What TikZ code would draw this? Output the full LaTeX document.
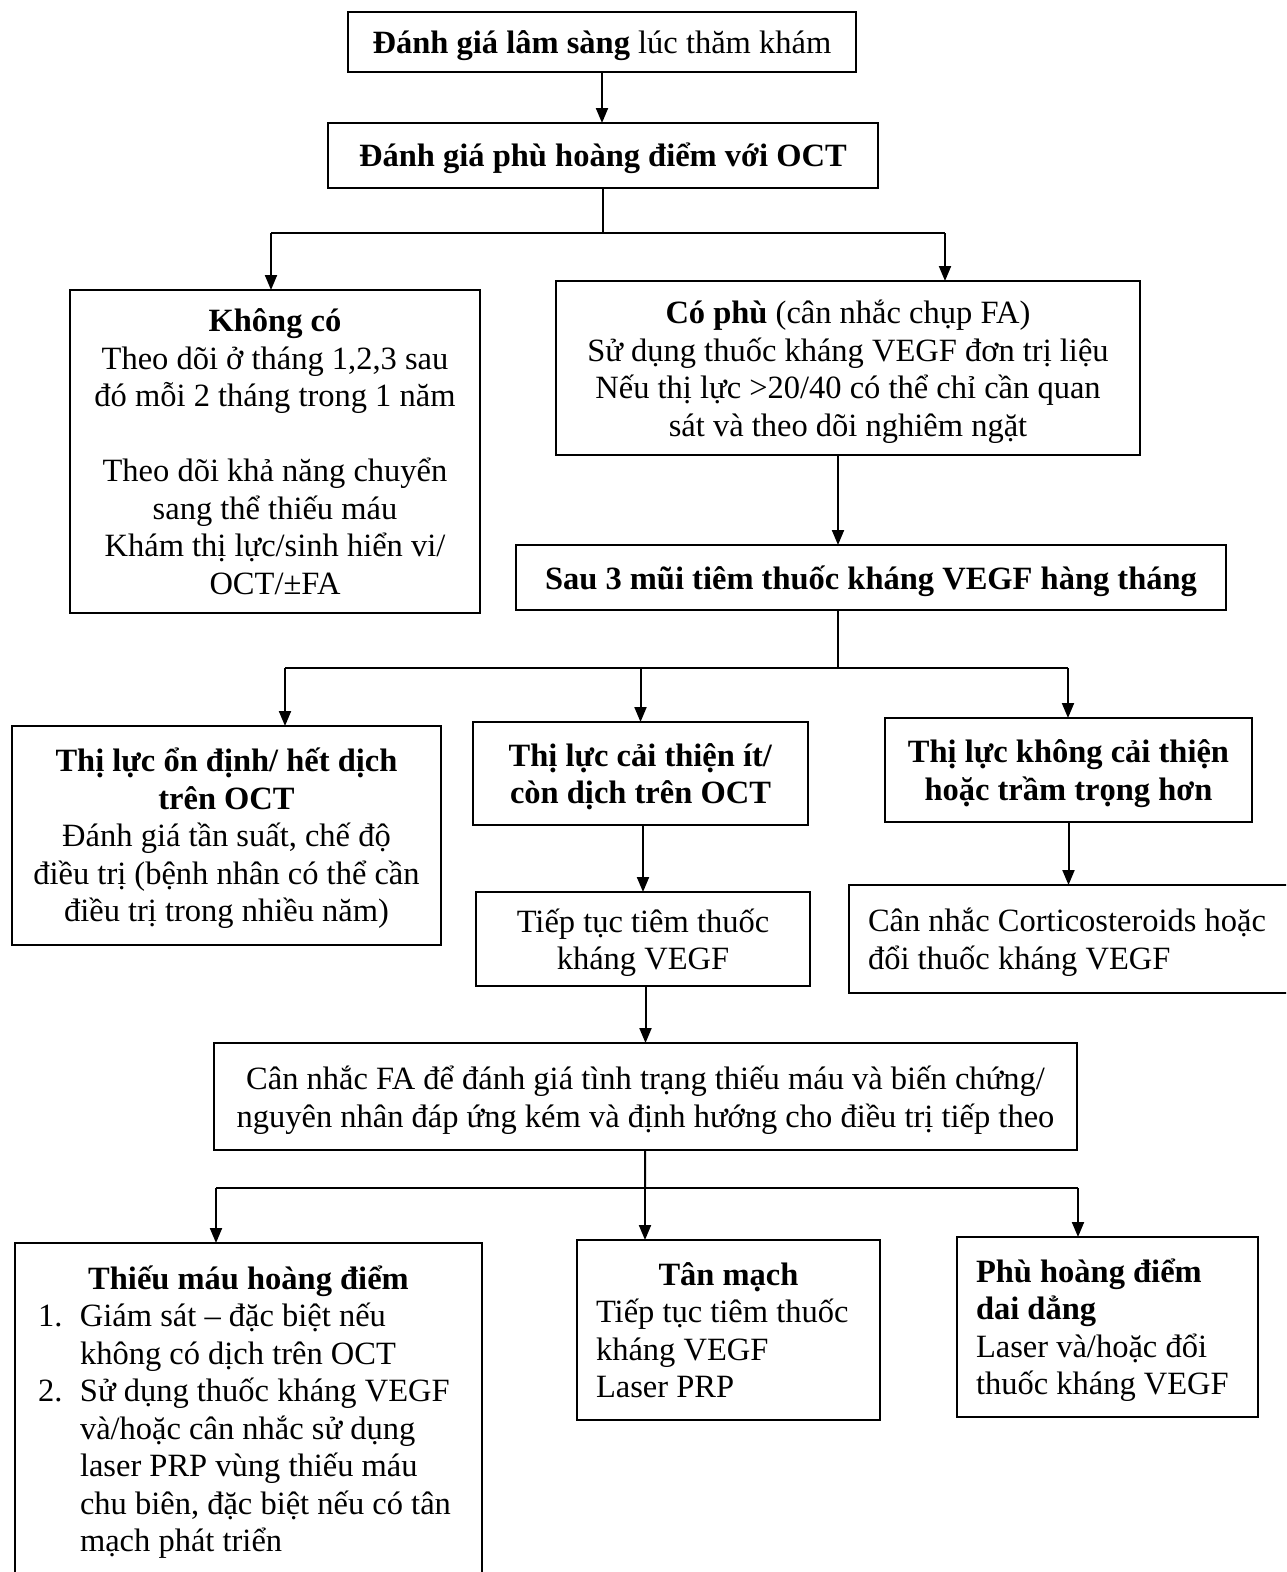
\documentclass[tikz,border=0pt]{standalone}
\usepackage{fontspec}
\setmainfont{Liberation Serif}
\usetikzlibrary{arrows.meta}

\begin{document}
\begin{tikzpicture}[x=1pt, y=-1pt]
\tikzset{ >={Triangle[length=15pt,width=12pt]}, outer sep=0pt,
  box/.style={draw, line width=2.2pt, align=center, inner xsep=19pt, inner ysep=0pt,
              font=\fontsize{32.5pt}{37.5pt}\selectfont},
  lbox/.style={box, align=flush left},
  link/.style={line width=2pt},
}

\useasboundingbox (0,0) rectangle (1286,1572);
\clip (0,0) rectangle (1286,1572);
\fill [white] (0,0) rectangle (1286,1572);

%\draw [lightgray, dashed](0,0) grid [step=100] (1286,1572);

\node [box, minimum width=508pt, minimum height=60pt, text depth=-8pt] (A) at (602,42) {\textbf{Đánh giá lâm sàng} lúc thăm khám};
\node [box, minimum width=550pt, minimum height=65pt, text depth=1pt] (B) at (603,155.5) {\textbf{Đánh giá phù hoàng điểm với OCT}};

\node [box, minimum width=410pt, minimum height=323pt, text depth=-3.5pt] (C) at (275,451.5)
  {\textbf{Không có}\\Theo dõi ở tháng 1,2,3 sau\\đó mỗi 2 tháng trong 1 năm\\[37.5pt]Theo dõi khả năng chuyển\\sang thể thiếu máu\\Khám thị lực/sinh hiển vi/\\OCT/±FA};
\node [box, minimum width=584pt, minimum height=174pt, text depth=-7pt] (D) at (848,368)
  {\textbf{Có phù} (cân nhắc chụp FA)\\Sử dụng thuốc kháng VEGF đơn trị liệu\\Nếu thị lực >20/40 có thể chỉ cần quan\\sát và theo dõi nghiêm ngặt};

\node [box, minimum width=710pt, minimum height=65pt, text depth=-1pt] (E) at (871,577.5) {\textbf{Sau 3 mũi tiêm thuốc kháng VEGF hàng tháng}};

\node [box, minimum width=429pt, minimum height=219pt, text depth=1pt] (F) at (226.5,835.5)
  {\textbf{Thị lực ổn định/ hết dịch}\\\textbf{trên OCT}\\Đánh giá tần suất, chế độ\\điều trị (bệnh nhân có thể cần\\điều trị trong nhiều năm)};
\node [box, minimum width=335pt, minimum height=103pt, text depth=-10pt] (G) at (640.5,773.5) {\textbf{Thị lực cải thiện ít/}\\\textbf{còn dịch trên OCT}};
\node [box, minimum width=367pt, minimum height=104pt, text depth=-10pt] (H) at (1068.5,770) {\textbf{Thị lực không cải thiện}\\\textbf{hoặc trầm trọng hơn}};

\node [box, minimum width=334pt, minimum height=94pt, text depth=-12pt] (I) at (643,939) {Tiếp tục tiêm thuốc\\kháng VEGF};
\node [lbox, text width=422pt, minimum height=108pt, text height=30pt] (J) at (1079,939) {Cân nhắc Corticosteroids hoặc\\đổi thuốc kháng VEGF};

\node [box, minimum width=863pt, minimum height=107pt, text depth=-3pt] (K) at (645.5,1096.5)
  {Cân nhắc FA để đánh giá tình trạng thiếu máu và biến chứng/\\nguyên nhân đáp ứng kém và định hướng cho điều trị tiếp theo};

\node [lbox, anchor=north, inner xsep=23pt, inner ysep=13pt, text width=421pt, text height=33pt, text depth=330pt] (L) at (248.5,1243)
  {\makebox[\linewidth]{\textbf{Thiếu máu hoàng điểm}}\\
   \mbox{\makebox[42pt][l]{1.}Giám sát – đặc biệt nếu}\\
   \mbox{\hspace*{42pt}không có dịch trên OCT}\\
   \mbox{\makebox[42pt][l]{2.}Sử dụng thuốc kháng VEGF}\\
   \mbox{\hspace*{42pt}và/hoặc cân nhắc sử dụng}\\
   \mbox{\hspace*{42pt}laser PRP vùng thiếu máu}\\
   \mbox{\hspace*{42pt}chu biên, đặc biệt nếu có tân}\\
   \mbox{\hspace*{42pt}mạch phát triển}};
\node [lbox, text width=265pt, minimum height=180pt] (M) at (728.5,1330)
  {\makebox[\linewidth]{\textbf{Tân mạch}}\\Tiếp tục tiêm thuốc\\kháng VEGF\\Laser PRP};
\node [lbox, text width=263pt, minimum height=180pt, text height=30pt] (N) at (1107.5,1327)
  {\textbf{Phù hoàng điểm}\\\textbf{dai dẳng}\\Laser và/hoặc đổi\\thuốc kháng VEGF};

\coordinate (b1)  at (603,233);
\coordinate (b1l) at (271,233);
\coordinate (b1r) at (945,233);
\coordinate (c2)  at (838,668);
\coordinate (c2l) at (285,668);
\coordinate (c2r) at (1068,668);
\coordinate (c3)  at (645,1188);
\coordinate (c3l) at (216,1188);
\coordinate (c3r) at (1078,1188);

\draw [->, link] (A.south) -- (A.south |- B.north);
\draw [link] (B) -- (b1);
\draw [link] (b1l) -- (b1r);
\draw [->, link] (b1l) -- (b1l |- C.north);
\draw [->, link] (b1r) -- (b1r |- D.north);

\draw [->, link] (c2 |- D.south) -- (c2 |- E.north);
\draw [link] (c2 |- E.south) -- (c2);
\draw [link] (c2l) -- (c2r);
\draw [->, link] (c2l) -- (c2l |- F.north);
\draw [->, link] (G |- c2) -- (G);
\draw [->, link] (c2r) -- (c2r |- H.north);

\draw [->, link] (I |- G.south) -- (I);
\draw [->, link] (H) -- (H |- J.north);
\draw [->, link] (K |- I.south) -- (K);

\draw [link] (K) -- (c3);
\draw [link] (c3l) -- (c3r);
\draw [->, link] (c3l) -- (c3l |- L.north);
\draw [->, link] (c3) -- (c3 |- M.north);
\draw [->, link] (c3r) -- (c3r |- N.north);
\end{tikzpicture}
\end{document}
